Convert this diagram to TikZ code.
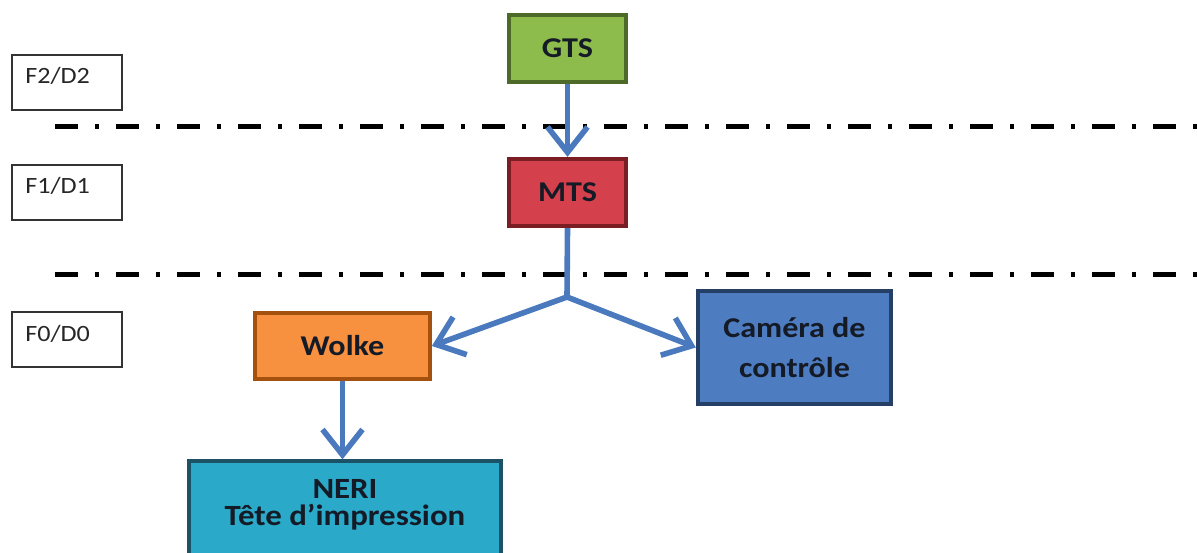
\documentclass[tikz,border=0pt]{standalone}
\usepackage{fontspec}
\setmainfont{Carlito}
\newfontfamily\boxfont[FakeStretch=1.12]{Carlito}
\usetikzlibrary{arrows.meta,calc}
\definecolor{gtsfill}{HTML}{8DBB4C}
\definecolor{gtsdraw}{HTML}{4E6A28}
\definecolor{mtsfill}{HTML}{D4404B}
\definecolor{mtsdraw}{HTML}{7A1E24}
\definecolor{wolfill}{HTML}{F7903F}
\definecolor{woldraw}{HTML}{A4500F}
\definecolor{camfill}{HTML}{4D7CC0}
\definecolor{camdraw}{HTML}{253F66}
\definecolor{nerfill}{HTML}{2AA9C9}
\definecolor{nerdraw}{HTML}{1C5266}
\definecolor{arrowblue}{HTML}{4A79BD}
\definecolor{textdark}{HTML}{141A26}
\tikzset{
  colbox/.style={draw, line width=3pt, rectangle, inner sep=0pt, align=center,
    font=\boxfont\bfseries\fontsize{21.5pt}{24pt}\selectfont, text=textdark},
  levelbox/.style={draw=black!80, line width=1.1pt, rectangle, inner sep=0pt,
    minimum width=82.5pt, minimum height=41.5pt},
  leveltext/.style={inner sep=0pt, anchor=west, font=\boxfont\fontsize{17.5pt}{19pt}\selectfont, text=black!85},
  sepline/.style={line width=3.75pt, black, dash pattern=on 17.25pt off 12.75pt on 3pt off 12.75pt},
  conn/.style={line width=4.2pt, arrowblue},
  arr/.style={conn, -{Straight Barb[length=19pt, width=30pt, line width=4.2pt]}}
}
\begin{document}
\begin{tikzpicture}[x=0.75pt, y=-0.75pt]
\useasboundingbox (0,0) rectangle (1197,553);
% level boxes
\node[levelbox] (f2) at (67,82.5) {};
\node[leveltext] (f2t) at (25,76) {F2/D2};
\node[levelbox] (f1) at (67,192.5) {};
\node[leveltext] (f1t) at (25,186) {F1/D1};
\node[levelbox] (f0) at (67,339.5) {};
\node[leveltext] (f0t) at (25,334) {F0/D0};
% separator lines
\coordinate (s1a) at (55,126); \coordinate (s1b) at (1200,126);
\coordinate (s2a) at (55,274); \coordinate (s2b) at (1200,274);
\draw[sepline] (s1a) -- (s1b);
\draw[sepline] (s2a) -- (s2b);
% boxes
\node[colbox, fill=gtsfill, draw=gtsdraw, minimum width=88pt, minimum height=50.5pt] (gts) at (567.5,48.5) {GTS};
\node[colbox, fill=mtsfill, draw=mtsdraw, minimum width=88pt, minimum height=50.5pt] (mts) at (567.5,192.5) {MTS};
\node[colbox, fill=wolfill, draw=woldraw, minimum width=131pt, minimum height=49pt] (wolke) at (342.5,346) {Wolke};
\node[colbox, fill=camfill, draw=camdraw, minimum width=145pt, minimum height=85pt,
      font=\boxfont\bfseries\fontsize{21.5pt}{30pt}\selectfont] (cam) at (794.5,347.5) {Caméra de\\[0pt]contrôle};
\node[colbox, fill=nerfill, draw=nerdraw, minimum width=234pt, minimum height=82pt] (neri) at (345,516) {};
\node[inner sep=0pt, align=center, font=\boxfont\bfseries\fontsize{22pt}{20pt}\selectfont, text=textdark] (nerit) at (345,505) {NERI\\Tête d’impression};
% connectors
\coordinate (junc) at (567,297);
\draw[arr] (gts.south) -- (mts.north);
\draw[conn] (mts.south) -- (junc);
\draw[arr] (junc) -- (wolke.east);
\draw[arr] (junc) -- (cam.west);
\draw[arr] (wolke.south) -- (wolke.south |- neri.north);
\end{tikzpicture}
\end{document}
